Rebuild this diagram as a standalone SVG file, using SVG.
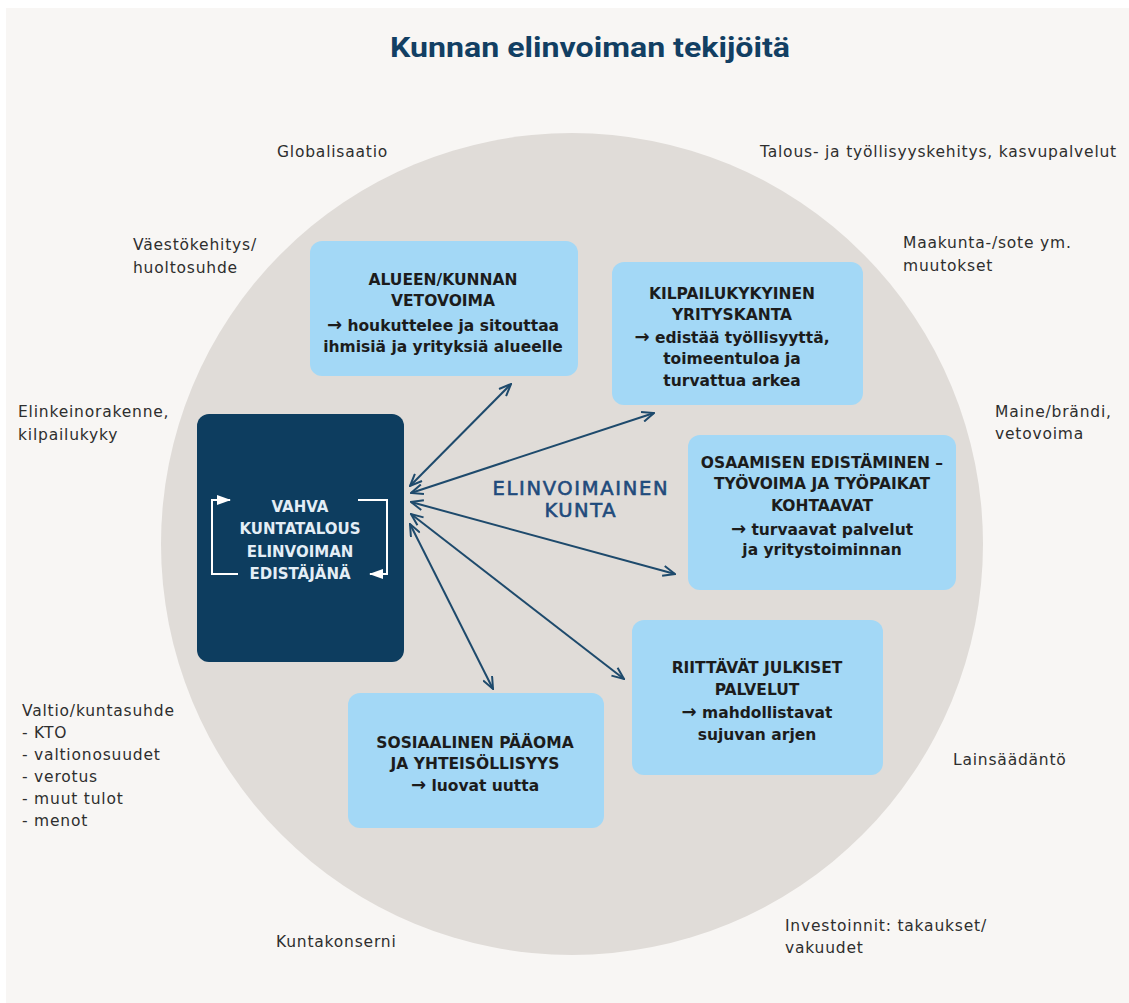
<svg xmlns="http://www.w3.org/2000/svg" width="1129" height="1003" viewBox="0 0 1129 1003">
<defs>
<style>
.lbl{font-family:"DejaVu Sans","Liberation Sans",sans-serif;font-size:15.5px;letter-spacing:0.8px;fill:#2e2e2e;}
.bx{fill:#a3d8f6;}
.bt{font-family:"DejaVu Sans","Liberation Sans",sans-serif;font-size:15.5px;font-weight:700;fill:#1c1c1c;text-anchor:middle;}
.ar{font-size:18px;}
.dk{font-family:"DejaVu Sans","Liberation Sans",sans-serif;font-size:15px;font-weight:700;fill:#e4eef6;text-anchor:middle;}
.ctr{font-family:"DejaVu Sans","Liberation Sans",sans-serif;font-size:19.5px;fill:#1f4b7c;stroke:#1f4b7c;stroke-width:0.6px;text-anchor:middle;}
.con{stroke:#1e4a6c;stroke-width:2;fill:none;marker-start:url(#ah);marker-end:url(#ah);}
.inner{stroke:#ffffff;stroke-width:2;fill:none;}
</style>
<marker id="ah" viewBox="0 0 14 12" refX="13" refY="6" markerWidth="14" markerHeight="12" markerUnits="userSpaceOnUse" orient="auto-start-reverse">
<path d="M1,1 L13,6 L1,11" fill="none" stroke="#1e4a6c" stroke-width="2"/>
</marker>
<marker id="wh" viewBox="0 0 14 12" refX="13" refY="6" markerWidth="14" markerHeight="12" markerUnits="userSpaceOnUse" orient="auto">
<path d="M0,1 L14,6 L0,11 Z" fill="#ffffff"/>
</marker>
</defs>
<rect x="0" y="0" width="1129" height="1003" fill="#ffffff"/>
<rect x="6" y="8" width="1123" height="995" fill="#f8f6f4"/>
<circle cx="572" cy="544" r="411" fill="#e0dcd8"/>
<text x="590" y="57" text-anchor="middle" font-family="Roboto,'Liberation Sans',sans-serif" font-size="28" font-weight="700" fill="#123f63" textLength="400" lengthAdjust="spacingAndGlyphs">Kunnan elinvoiman tekijöitä</text>

<g id="outer-labels">
<text class="lbl" x="277" y="157">Globalisaatio</text>
<text class="lbl" x="760" y="157">Talous- ja työllisyyskehitys, kasvupalvelut</text>
<text class="lbl" x="133" y="250">Väestökehitys/</text>
<text class="lbl" x="133" y="273">huoltosuhde</text>
<text class="lbl" x="903" y="248">Maakunta-/sote ym.</text>
<text class="lbl" x="903" y="271">muutokset</text>
<text class="lbl" x="18" y="417">Elinkeinorakenne,</text>
<text class="lbl" x="18" y="440">kilpailukyky</text>
<text class="lbl" x="995" y="417">Maine/brändi,</text>
<text class="lbl" x="995" y="439">vetovoima</text>
<text class="lbl" x="22" y="716">Valtio/kuntasuhde</text>
<text class="lbl" x="22" y="738">- KTO</text>
<text class="lbl" x="22" y="760">- valtionosuudet</text>
<text class="lbl" x="22" y="782">- verotus</text>
<text class="lbl" x="22" y="804">- muut tulot</text>
<text class="lbl" x="22" y="826">- menot</text>
<text class="lbl" x="953" y="765">Lainsäädäntö</text>
<text class="lbl" x="785" y="931">Investoinnit: takaukset/</text>
<text class="lbl" x="785" y="953">vakuudet</text>
<text class="lbl" x="276" y="947">Kuntakonserni</text>
</g>

<g id="center-label">
<text class="ctr" x="580" y="495" textLength="175">ELINVOIMAINEN</text>
<text class="ctr" x="580" y="517" textLength="71">KUNTA</text>
</g>

<g id="connectors">
<line class="con" x1="410" y1="486" x2="511" y2="384"/>
<line class="con" x1="411" y1="493" x2="654" y2="413"/>
<line class="con" x1="411" y1="502" x2="675" y2="574"/>
<line class="con" x1="411" y1="514" x2="624" y2="679"/>
<line class="con" x1="410" y1="524" x2="493" y2="689"/>
</g>

<g id="node-kuntatalous">
<rect x="197" y="414" width="207" height="248" rx="12" fill="#0d3d5f"/>
<path class="inner" d="M238,574 H212 V500 H230" marker-end="url(#wh)"/>
<path class="inner" d="M358,500 H387 V574 H370" marker-end="url(#wh)"/>
<text class="dk" x="300" y="512">VAHVA</text>
<text class="dk" x="300" y="534">KUNTATALOUS</text>
<text class="dk" x="300" y="557">ELINVOIMAN</text>
<text class="dk" x="300" y="579">EDISTÄJÄNÄ</text>
</g>

<g id="node-vetovoima">
<rect class="bx" x="310" y="241" width="268" height="135" rx="12"/>
<text class="bt" x="443" y="285">ALUEEN/KUNNAN</text>
<text class="bt" x="443" y="306">VETOVOIMA</text>
<text class="bt" x="443" y="331"><tspan class="ar">→</tspan> houkuttelee ja sitouttaa</text>
<text class="bt" x="443" y="352">ihmisiä ja yrityksiä alueelle</text>
</g>

<g id="node-yrityskanta">
<rect class="bx" x="612" y="262" width="251" height="143" rx="12"/>
<text class="bt" x="732" y="299">KILPAILUKYKYINEN</text>
<text class="bt" x="732" y="320">YRITYSKANTA</text>
<text class="bt" x="732" y="343"><tspan class="ar">→</tspan> edistää työllisyyttä,</text>
<text class="bt" x="732" y="364">toimeentuloa ja</text>
<text class="bt" x="732" y="386">turvattua arkea</text>
</g>

<g id="node-osaaminen">
<rect class="bx" x="688" y="435" width="268" height="155" rx="12"/>
<text class="bt" x="822" y="468">OSAAMISEN EDISTÄMINEN –</text>
<text class="bt" x="822" y="489">TYÖVOIMA JA TYÖPAIKAT</text>
<text class="bt" x="822" y="511">KOHTAAVAT</text>
<text class="bt" x="822" y="535"><tspan class="ar">→</tspan> turvaavat palvelut</text>
<text class="bt" x="822" y="555">ja yritystoiminnan</text>
</g>

<g id="node-palvelut">
<rect class="bx" x="632" y="620" width="251" height="155" rx="12"/>
<text class="bt" x="757" y="673">RIITTÄVÄT JULKISET</text>
<text class="bt" x="757" y="695">PALVELUT</text>
<text class="bt" x="757" y="718"><tspan class="ar">→</tspan> mahdollistavat</text>
<text class="bt" x="757" y="740">sujuvan arjen</text>
</g>

<g id="node-sosiaalinen">
<rect class="bx" x="348" y="693" width="256" height="135" rx="12"/>
<text class="bt" x="475" y="748">SOSIAALINEN PÄÄOMA</text>
<text class="bt" x="475" y="769">JA YHTEISÖLLISYYS</text>
<text class="bt" x="475" y="791"><tspan class="ar">→</tspan> luovat uutta</text>
</g>
</svg>
